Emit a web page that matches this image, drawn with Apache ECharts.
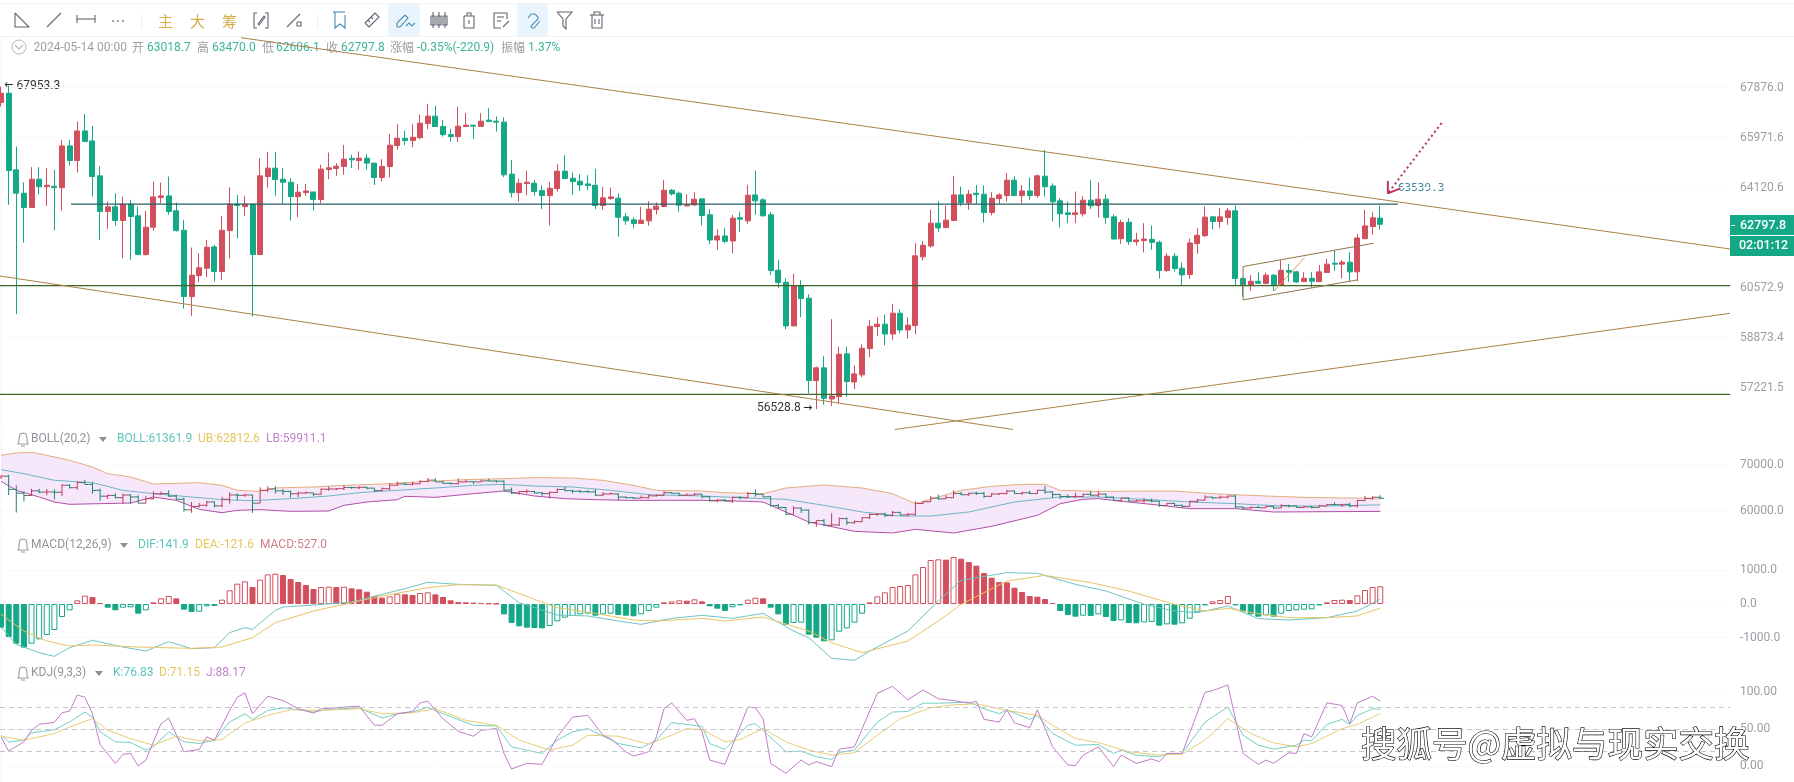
<!DOCTYPE html>
<html>
<head>
<meta charset="utf-8">
<style>html,body{margin:0;padding:0;background:#fff}#chart{width:1794px;height:782px}</style>
<script src="https://cdn.jsdelivr.net/npm/echarts@6/dist/echarts.min.js"></script>
</head>
<body>
<div id="chart"></div>
<script>
// candles, index 0..181
const opens = [
67304,67660,64775,63917,63401,64430,64158,64170,64121,65663,65120,66226,65848,64553,63257,63425,62933,63521,63101,61727,
62693,63761,63821,63281,62585,60267,60993,61249,61995,61133,62573,63521,63437,63521,61727,64528,64837,64430,64318,63797,
63941,63965,63689,64787,64825,64899,65194,65120,65207,65022,64491,64899,65676,65947,65861,65972,66505,66784,66391,66086,
66010,66391,66442,66391,66632,66594,66556,64615,63941,64269,64281,64013,63833,64085,64726,64466,64355,64257,64207,63473,
63725,63737,63065,62957,62825,62921,63329,63437,64025,63917,63461,63497,63713,63137,62239,62381,62205,63029,62921,63857,
63677,63137,61179,60760,59270,60643,60210,57454,57872,56855,56930,58334,57410,57641,58510,59247,59327,58998,59700,59134,
59281,61645,62029,62837,62681,62933,63857,63569,63917,63881,63221,63725,63833,64392,63833,64001,63833,64540,64183,63641,
63209,63149,63173,63665,63473,63701,63065,62286,62873,62181,62216,62263,62158,61168,61669,61249,61028,62111,62393,63065,
62897,63041,63281,60888,60666,60795,60713,61005,60666,61168,61121,60783,60899,60783,61098,61424,61389,61459,61121,62286,
62717,63018.7]
const closes = [
67660,64750,63917,63401,64430,64158,64207,64121,65663,65120,66226,65824,64528,63257,63425,62933,63521,63077,61727,62693,
63785,63821,63257,62573,60267,61005,61261,61983,61133,62585,63521,63473,63521,61727,64553,64837,64417,64318,63797,63953,
64001,63689,64800,64850,64911,65170,65145,65207,65022,64491,64899,65688,65947,65861,65985,66517,66784,66391,66086,66010,
66404,66442,66404,66594,66581,66556,64590,63941,64281,64318,63977,63833,64097,64726,64454,64343,64220,64195,63473,63749,
63785,63053,62921,62825,62945,63341,63449,64025,63893,63485,63497,63701,63113,62239,62381,62193,63017,62981,63845,63641,
63101,61168,60748,59270,60643,60199,57454,57872,56876,56952,58323,57421,57674,58521,59258,59327,58998,59700,59134,59293,
61680,62053,62837,62669,62945,63857,63569,63881,63869,63221,63737,63857,64392,63833,64001,63833,64553,64158,63605,63173,
63149,63209,63665,63461,63701,63041,62274,62861,62181,62239,62274,62158,61168,61669,61238,61016,62134,62405,63053,62897,
63065,63281,60888,60678,60795,60725,61005,60666,61179,61109,60771,60899,60795,61121,61389,61389,61459,61121,62310,62741,
63029,62797.8]
const lows = [
67152,63497,59667,62146,63401,63881,63461,62573,63293,64935,64677,65824,63797,62239,62633,62753,61599,61540,61727,61692,
62561,63557,63137,62537,59859,59610,60760,60935,60783,60841,61587,62298,63101,59587,61727,64121,63821,63521,62933,63053,
63821,63293,63557,64430,64553,64590,64837,64775,64775,64220,64343,64503,65515,65688,65614,65910,66289,66391,66010,65824,
65812,66366,65923,66391,66581,66200,64503,63761,63605,63845,63821,63341,62753,63977,64430,63857,64001,64037,63341,63317,
63677,62357,62777,62657,62825,62741,63149,63425,63833,63245,63437,63461,62753,62088,61890,62123,61773,62525,62813,63137,
63077,61005,60562,59157,59270,59565,57035,56528.8,56671,56628,56714,56930,57179,57564,58224,58930,58620,58796,59021,58840,
58987,61517,61972,62513,62657,62921,63461,63317,63521,62861,63113,63533,63617,63833,63557,63677,63761,63797,62897,62681,
62837,62837,63077,63341,63041,62813,62263,62100,62065,62042,61797,61890,60888,61121,61133,60643,60876,61750,62345,62621,
62657,62777,60643,60267,60471,60701,60701,60460,60643,60783,60736,60771,60585,60771,61098,61156,60888,60771,60795,62286,
62429,62606.1]
const highs = [
67914,67953.3,65639,64318,64874,64874,64837,64775,65886,65886,66580,66860,66416,64899,63617,63917,63797,63677,63437,63281,
64343,64306,64528,63581,62957,61972,61773,62239,62065,63101,64133,63857,63821,63521,65207,65441,65441,64837,64466,64257,
64257,63965,64960,65416,65022,65700,65330,65453,65342,65022,65170,66112,66480,66226,66480,66835,67254,67178,66645,66302,
67152,66899,66442,66899,67089,66772,66734,65145,64442,64751,64405,64207,64331,64985,65318,64677,64615,64578,64812,64146,
64121,63917,63197,63053,63425,63629,63581,64405,64073,63977,63881,63953,63713,63341,62621,62669,63137,63245,64220,64751,
63737,63245,61540,60899,61063,60830,60346,57916,58268,59497,58576,58576,57949,58653,59474,59565,59656,60018,59836,59565,
62123,62205,63317,63629,63461,64553,64158,64037,64220,64195,63953,63917,64652,64540,64220,64491,64603,65515,64281,63737,
63617,63977,63821,64405,64318,63881,63161,62957,63017,62501,62837,62753,62216,61773,61773,61447,62286,62657,63437,63065,
63377,63377,63473,60935,61005,61109,61098,61040,61529,61400,61156,61109,61109,61354,61575,61890,61540,61808,62453,63317,
63233,63470]

// main panel tick labels and drawn lines, as [candle index, price]
const priceTicks = [67876.0,65971.6,64120.6,60572.9,58873.4,57221.5]
const trendTop = [[31.5,69832],[226.9,61921]]
const trendLeft = [[-0.14,60977],[132.8,55877]]
const trendRising = [[117.3,55877],[226.9,59696]]
const levelMid = [[-0.14,60642],[226.9,60642]]
const levelLow = [[-0.14,57002],[226.9,57002]]
const levelTop = [[9.18,63521],[183.3,63521]]
const channel = [[180.1,62122],[163,61307],[163,60154],[178,60841]]
const channelCross = [[167.05,60460],[171.1,61622]]
const arrowShaft = [[189.05,66523],[182,63914]]
const arrowHead = [[182,64363],[182,63914],[183.65,64097]]

// BOLL
const bollTicks = [70000,60000]
const upperBand = [[0,72235],[2,72748],[4,72894],[6,72235],[9,71136],[12,69671],[14,68205],[17,67473],[20,65934],[23,66080],[26,66227],[29,65641],[31,64542],[34,64322],[36,65055],[41,65274],[45,65641],[50,65934],[56,66520],[61,66886],[66,67106],[70,67326],[75,67253],[79,66740],[83,65641],[86,64542],[92,64395],[95,64029],[100,63809],[103,65055],[108,65714],[113,65055],[117,63809],[120,61611],[126,64542],[130,65421],[134,65861],[137,65861],[139,64542],[144,64322],[154,64395],[159,63809],[166,63296],[171,63003],[176,62856],[181,62812.6]]
const lowerBand = [[0,66520],[2,64542],[5,63076],[7,61977],[9,61464],[13,61611],[17,61757],[20,63076],[23,62343],[26,60365],[29,59632],[31,60145],[34,60292],[38,59926],[43,59999],[45,61244],[48,61977],[52,62490],[53,63223],[57,63003],[62,63809],[66,64395],[70,63296],[74,62710],[78,62490],[82,62343],[92,62343],[98,62124],[100,61977],[103,59779],[106,57581],[112,55529],[117,55163],[120,55969],[125,55163],[130,56628],[136,59046],[139,61611],[142,62563],[144,62710],[148,61977],[153,61098],[156,60512],[162,60512],[167,59779],[174,59850],[181,59911.1]]
const midBand = [[0,69084],[3,68205],[7,66740],[12,66227],[16,64542],[20,63809],[25,63076],[29,62490],[33,62270],[38,62710],[43,63296],[47,64029],[52,64542],[57,65055],[62,65641],[66,65861],[70,65494],[75,65274],[80,64542],[85,63589],[92,63296],[98,62856],[103,62563],[108,61244],[113,59779],[118,58900],[122,58900],[127,59779],[133,61977],[139,63076],[144,63076],[150,62563],[156,61977],[162,61611],[168,61098],[174,61100],[181,61361.9]]

// MACD
const macdTicks = [1000,0,-1000]
const macdHist = [
-703,-980,-1178,-1297,-1178,-1049,-921,-772,-386,-188,109,248,208,30,-109,-188,-109,-99,-287,-188,
50,168,238,168,-168,-238,-228,-69,-59,129,406,604,673,505,723,881,901,861,743,653,
564,446,505,515,505,515,465,436,366,238,188,228,307,287,267,327,347,287,208,109,
59,50,40,30,20,10,-307,-564,-663,-703,-713,-723,-653,-515,-406,-356,-307,-287,-347,-307,
-287,-327,-347,-366,-307,-208,-109,50,79,109,99,139,79,-69,-139,-208,-99,-40,129,188,
168,-109,-307,-614,-564,-554,-911,-1000,-1109,-1079,-822,-723,-554,-287,50,228,347,505,535,564,
881,1099,1307,1327,1317,1396,1346,1247,1139,921,782,653,644,485,356,238,218,149,30,-208,
-327,-376,-347,-356,-307,-386,-505,-485,-564,-574,-545,-535,-644,-604,-614,-574,-436,-248,-40,79,
119,238,-40,-228,-307,-376,-337,-376,-287,-208,-188,-168,-158,-40,50,119,129,119,257,416,
505,527]
const difLine = [[0,-683],[2,-1198],[5,-1445],[7,-1554],[9,-1297],[12,-1079],[14,-1178],[16,-1277],[19,-1396],[22,-1119],[25,-1327],[28,-1297],[30,-851],[32,-703],[33,-752],[36,-188],[37,-89],[41,-30],[46,59],[50,287],[53,455],[56,644],[60,584],[65,554],[68,40],[73,-327],[77,-356],[81,-505],[84,-604],[88,-426],[92,-337],[96,-426],[100,-277],[104,-802],[106,-1000],[109,-1614],[112,-1673],[114,-1396],[119,-802],[123,89],[126,703],[132,931],[136,911],[141,584],[145,386],[150,-10],[154,-208],[157,-257],[161,-59],[165,-436],[169,-475],[174,-406],[178,-208],[181,141.9]]
const deaLine = [[0,-307],[3,-802],[6,-1099],[9,-1247],[12,-1218],[18,-1277],[25,-1317],[29,-1277],[33,-1000],[36,-554],[41,-208],[46,40],[50,238],[56,485],[60,574],[65,564],[70,139],[73,-109],[78,-277],[83,-475],[86,-505],[92,-426],[95,-505],[100,-386],[106,-802],[109,-1148],[113,-1445],[119,-1099],[123,-505],[126,-10],[132,683],[137,851],[143,634],[148,386],[154,-10],[158,-208],[161,-129],[165,-287],[169,-406],[174,-406],[178,-356],[181,-121.6]]

// KDJ
const kdjTicks = [100,50,0]
const kdjLevels = [80,50,20]
const jLine = [[0,39.4],[1,20],[3,32.7],[4,48.4],[5,56.5],[7,59.2],[8,72.3],[9,74.5],[10,96.5],[11,93.4],[12,70.9],[13,29],[15,3.4],[16,15.6],[17,16.9],[18,-0.2],[19,7.9],[21,57.4],[22,65.1],[24,19.2],[26,22.3],[27,39.4],[28,34.9],[30,75.4],[31,93.4],[32,99.2],[33,70.9],[35,94.7],[37,88.9],[39,77.7],[41,71.8],[42,77.7],[45,79.9],[47,81.3],[49,55.2],[50,55.2],[52,70.9],[54,74],[55,85.7],[56,88],[58,64.2],[60,47],[62,40.3],[63,48.4],[65,50.7],[66,16.9],[67,-4.3],[69,3.4],[71,2],[73,39.4],[75,66.4],[77,68.7],[79,41.6],[80,37.1],[82,19.2],[83,13.3],[85,19.2],[86,39.4],[87,77.7],[88,85.7],[90,61.9],[91,64.2],[92,46.2],[93,7.9],[95,2],[98,79.9],[99,79],[100,64.2],[101,3.4],[103,-10.1],[105,7.9],[106,1.2],[107,5.7],[109,-1.1],[110,22.7],[112,25.9],[115,98.8],[117,108.2],[119,89.8],[121,103.3],[123,91.2],[125,88.9],[127,85.3],[128,88],[129,63.2],[131,59.7],[132,76.3],[133,58.3],[135,52],[136,76.3],[138,25.9],[140,1.2],[141,0.3],[142,14.6],[144,25.9],[146,-1.1],[147,14.6],[149,3.4],[151,9.3],[152,5.7],[153,16.9],[155,16.9],[158,100.2],[159,102.4],[161,110.1],[163,16.9],[165,2],[166,7.9],[167,3.4],[169,17.8],[170,16.9],[171,43.9],[172,39.4],[174,85.7],[176,82.2],[177,57.4],[178,85.7],[180,94.7],[181,88.17]]
const kLine = [[0,41.7],[1,32.7],[3,34.9],[4,44.8],[7,49.3],[9,59.7],[11,73.2],[12,66.4],[13,46.2],[15,32.7],[17,31.8],[19,21.4],[20,25.9],[22,46.2],[24,32.7],[26,30.4],[28,34.9],[30,59.7],[32,70.9],[33,63.2],[35,75.4],[37,79],[39,76.3],[41,73.2],[43,76.8],[47,79],[50,65.1],[52,70.9],[54,73.2],[56,79.9],[58,70.9],[62,55.2],[65,54.3],[67,25.9],[71,16.9],[73,34.9],[75,46.2],[77,50.7],[79,40.3],[81,30.4],[84,24.5],[86,34.9],[88,58.8],[92,53.8],[93,30.4],[95,22.3],[98,55.2],[99,57.4],[100,48.4],[103,19.2],[105,20],[107,12.4],[109,8.8],[110,18.2],[112,21.4],[115,59.7],[117,73.2],[119,74.1],[121,85.3],[123,85.3],[127,86.7],[129,77.7],[131,70.9],[132,76.3],[135,63.2],[136,68.7],[138,43.9],[141,28.1],[144,29],[146,16.9],[147,21.4],[149,14.6],[152,12.4],[153,16.9],[155,16.9],[158,59.7],[161,79.9],[163,41.7],[165,28.1],[167,22.7],[170,28.1],[171,34.9],[172,34],[174,56.5],[176,63.2],[177,56.5],[178,68.7],[180,77.7],[181,76.83]]
const dLine = [[0,40.3],[3,34.9],[7,43.9],[9,52.9],[12,64.2],[14,48.4],[17,37.1],[20,28.1],[23,40.3],[26,34],[29,35.8],[32,58.3],[35,68.7],[38,76.3],[42,75.4],[47,77.7],[50,70.9],[54,72.3],[57,77.7],[61,61.9],[65,55.2],[68,34.9],[72,21.4],[75,28.1],[77,41.7],[81,40.3],[85,29.5],[88,41.7],[90,50.7],[92,49.3],[95,32.7],[97,35.8],[100,50.7],[103,32.7],[106,21.4],[109,14.6],[112,17.8],[115,41.7],[118,64.2],[122,79],[125,83.1],[128,84.4],[132,75.4],[136,68.7],[138,55.2],[141,37.1],[144,31.7],[148,19.2],[152,14.6],[155,16],[158,34.9],[161,64.2],[164,43.9],[167,31.3],[170,25.9],[172,30.4],[176,50.7],[178,56.5],[181,71.15]]

const RED = '#d24f5d', GREEN = '#14a887'
const NUM = 'Roboto, sans-serif', CJK = '"Noto Sans CJK SC", sans-serif', ARROW = '"DejaVu Sans", sans-serif'

const candles = opens.map((o, i) => [i, o, closes[i], lows[i], highs[i]])
const xDomain = { min: -0.138, max: 226.9 }

function xAxis(gridIndex) {
    return { type: 'value', gridIndex, ...xDomain, show: false, splitLine: { show: false } }
}
function yAxis(gridIndex, type, min, max, ticks, digits) {
    return {
        type, gridIndex, min, max, position: 'right', scale: true,
        axisLine: { show: true, lineStyle: { color: '#f1f2f4' } },
        axisTick: { show: false, customValues: ticks },
        splitLine: { show: true, lineStyle: { color: '#f8f9fa' } },
        axisLabel: {
            show: true, customValues: ticks, margin: 10, color: '#9a9fa5', fontSize: 12, fontFamily: NUM,
            formatter: v => Number(v).toFixed(digits)
        }
    }
}
function line(name, data, color, axis, extra) {
    return Object.assign({
        name, type: 'line', data, xAxisIndex: axis, yAxisIndex: axis, symbol: 'none', silent: true,
        lineStyle: { color, width: 1 }
    }, extra)
}

// ohlc ticks for the BOLL pane
function renderOhlc(params, api) {
    const x = api.value(0), o = api.value(1), c = api.value(2)
    const po = api.coord([x, o]), pc = api.coord([x, c])
    const pl = api.coord([x, api.value(3)]), ph = api.coord([x, api.value(4)])
    const style = { stroke: c >= o ? '#b8415c' : '#23806f', lineWidth: 1 }
    return {
        type: 'group', children: [
            { type: 'line', shape: { x1: ph[0], y1: ph[1], x2: pl[0], y2: pl[1] }, style },
            { type: 'line', shape: { x1: po[0] - 3.8, y1: po[1], x2: po[0], y2: po[1] }, style },
            { type: 'line', shape: { x1: pc[0], y1: pc[1], x2: pc[0] + 3.8, y2: pc[1] }, style }
        ]
    }
}
// band fill between upper and lower BOLL lines
function renderBand(params, api) {
    if (params.dataIndex !== 0) return
    const top = upperBand.map(p => api.coord(p))
    const bottom = lowerBand.map(p => api.coord(p)).reverse()
    return { type: 'polygon', shape: { points: top.concat(bottom) }, style: { fill: '#f6e7fb' } }
}

const macdBars = macdHist.map((v, i) => {
    const color = v >= 0 ? RED : GREEN
    const hollow = i > 0 && v > macdHist[i - 1]
    return { value: [i, v], itemStyle: { color: hollow ? '#fff' : color, borderColor: color, borderWidth: 1 } }
})

// page furniture drawn with graphic elements
const graphic = []
function text(x, y, str, fill, font, size, extra) {
    graphic.push({
        type: 'text', x, y, silent: true,
        style: Object.assign({ text: str, fill, fontFamily: font || NUM, fontSize: size || 12, verticalAlign: 'middle', align: 'left' }, extra)
    })
}
function icon(x, y, strokes, stroke) {
    strokes.forEach(points => graphic.push({
        type: 'polyline', x, y, silent: true, shape: { points },
        style: { fill: 'none', stroke: stroke || '#5d6670', lineWidth: 1.1 }
    }))
}
function rect(x, y, width, height, fill) {
    graphic.push({ type: 'rect', silent: true, shape: { x, y, width, height }, style: { fill } })
}

rect(388, 4, 32, 32, '#e9f4fc')
rect(517, 4, 31, 32, '#e9f4fc')
rect(0, 3, 1794, 1, '#f3f4f5')
rect(0, 36, 1794, 1, '#f1f2f3')
rect(141, 14, 1, 14, '#eceef0')
rect(317, 14, 1, 14, '#eceef0')

const BLUE = '#4a8db5'
icon(15, 13, [[[0,0],[0,14],[14,14],[0,0]]])
icon(47, 13, [[[0,14],[14,0]]])
icon(77, 15, [[[0,0],[0,8]],[[0,4],[18,4]],[[18,0],[18,8]]])
icon(112, 20, [[[0,1],[2,1]],[[5,1],[7,1]],[[10,1],[12,1]]], '#444')
text(158, 21, '主', '#d7aa4a', CJK, 15)
text(190, 21, '大', '#d7aa4a', CJK, 15)
text(222, 21, '筹', '#d7aa4a', CJK, 15)
icon(254, 13, [[[3,0],[0,0],[0,15],[3,15]],[[11,0],[14,0],[14,15],[11,15]],[[4,11],[10,3],[11,4],[5,12],[4,11]]])
icon(287, 13, [[[0,14],[13,1]],[[10,9],[14,9],[14,13],[10,13],[10,9]]])
icon(333, 12, [[[0,0],[12,0]],[[2,0],[2,16],[7,12],[12,16],[12,3]]], BLUE)
icon(365, 13, [[[0,10],[10,0],[14,4],[4,14],[0,10]],[[3,7],[5,9]],[[6,4],[8,6]]])
icon(397, 13, [[[0,14],[0,10],[8,2],[11,5],[3,14],[0,14]],[[9,13],[12,10],[15,13],[18,10]]], BLUE)
icon(430, 12, [[[1,4],[1,13],[5,13],[5,4],[1,4]],[[3,0],[3,16]],[[7,4],[7,13],[11,13],[11,4],[7,4]],[[9,0],[9,16]],[[13,4],[13,13],[17,13],[17,4],[13,4]],[[15,0],[15,16]]])
icon(464, 13, [[[0,3],[10,3],[10,15],[0,15],[0,3]],[[3,3],[3,0],[7,0],[7,3]],[[5,7],[5,11]]])
icon(494, 13, [[[13,6],[13,0],[0,0],[0,15],[7,15]],[[3,4],[10,4]],[[3,8],[7,8]],[[9,14],[15,8]]])
icon(526, 13, [[[2,5],[5,1],[9,1],[12,4],[12,6],[5,13],[6,15],[8,15],[14,8]]], BLUE)
icon(557, 12, [[[0,0],[15,0],[9,7],[9,17],[6,14],[6,7],[0,0]]])
icon(590, 12, [[[0,3],[14,3]],[[4,3],[4,0],[10,0],[10,3]],[[2,3],[2,16],[12,16],[12,3]],[[5,7],[5,12]],[[9,7],[9,12]]])

// header values
graphic.push({ type: 'circle', silent: true, shape: { cx: 19, cy: 47, r: 7 }, style: { fill: 'none', stroke: '#b4b8bd', lineWidth: 1 } })
icon(15, 45, [[[0,0],[4,4],[8,0]]], '#b4b8bd')
const GRAY = '#9aa0a6', TEAL = '#3fb39a'
const headerLabels = [[33.5, '2024-05-14 00:00'], [132, '开'], [197, '高'], [262, '低'], [326, '收'], [390, '涨幅'], [501, '振幅']]
const headerValues = [[147, '63018.7'], [212, '63470.0'], [276, '62606.1'], [341, '62797.8'], [417, '-0.35%(-220.9)'], [528, '1.37%']]
headerLabels.forEach(([x, s]) => text(x, 47.5, s, GRAY, /^\d/.test(s) ? NUM : CJK, 12))
headerValues.forEach(([x, s]) => text(x, 47.5, s, TEAL))

// indicator legends
function legend(y, title, triangleX, items) {
    icon(18, y - 6, [[[5,0],[2,1],[1,5],[1,8],[0,11],[10,11],[9,8],[9,5],[8,1],[5,0]],[[3,13],[7,13]]], '#9aa0a6')
    text(31, y, title, '#8f959b')
    graphic.push({
        type: 'polygon', silent: true,
        shape: { points: [[triangleX - 4, y - 2], [triangleX + 4, y - 2], [triangleX, y + 3]] }, style: { fill: '#8a9096' }
    })
    items.forEach(([x, s, c]) => text(x, y, s, c))
}
const LT = '#5fc4bb', LY = '#e6c55d', LP = '#c583cd'
legend(439, 'BOLL(20,2)', 103, [[117, 'BOLL:61361.9', LT], [198, 'UB:62812.6', LY], [266, 'LB:59911.1', LP]])
legend(545, 'MACD(12,26,9)', 124, [[138, 'DIF:141.9', LT], [195, 'DEA:-121.6', LY], [260, 'MACD:527.0', '#cf7f88']])
legend(673, 'KDJ(9,3,3)', 99, [[113, 'K:76.83', LT], [159, 'D:71.15', LY], [206, 'J:88.17', LP]])

// extremes and last price
text(4, 85.5, '←', '#222', ARROW, 11)
text(16.5, 85.5, '67953.3', '#333')
text(757, 408, '56528.8', '#333')
text(803, 408, '→', '#222', ARROW, 11)
text(1398, 188, '63539.3', '#3f86a0', '"DejaVu Sans Mono", monospace', 11)
rect(1730, 215, 64, 41, GREEN)
rect(1730, 235, 64, 1, '#fff')
rect(1731, 225, 4, 1, '#fff')
text(1740, 225.5, '62797.8', '#fff', NUM, 12.5, { fontWeight: 500 })
text(1739, 245.5, '02:01:12', '#fff', NUM, 12.5, { fontWeight: 500 })

// watermark
graphic.push({
    type: 'text', x: 1361, y: 744, silent: true, z: 100,
    style: {
        text: '搜狐号@虚拟与现实交换', fill: '#fff', stroke: '#000', lineWidth: 1.2,
        fontFamily: CJK, fontSize: 35.5, verticalAlign: 'middle', align: 'left',
        shadowColor: '#000', shadowOffsetX: 2, shadowOffsetY: 2, shadowBlur: 0
    }
})

const TREND = '#ab8148', LEVEL = '#3f6326'
const option = {
    animation: false,
    backgroundColor: '#fff',
    grid: [
        { left: 0, width: 1730, top: 37, height: 393 },
        { left: 0, width: 1730, top: 434, height: 100 },
        { left: 0, width: 1730, top: 536, height: 127 },
        { left: 0, width: 1730, top: 663, height: 120 }
    ],
    xAxis: [xAxis(0), xAxis(1), xAxis(2), xAxis(3)],
    yAxis: [
        yAxis(0, 'log', 55861, 69860, priceTicks, 1),
        yAxis(1, 'value', 54945, 76923, bollTicks, 1),
        yAxis(2, 'value', -1752, 2020, macdTicks, 1),
        yAxis(3, 'value', -22, 140, kdjTicks, 2)
    ],
    series: [
        {
            type: 'candlestick', data: candles, xAxisIndex: 0, yAxisIndex: 0, barWidth: 5.5, silent: true,
            itemStyle: { color: RED, color0: GREEN, borderColor: RED, borderColor0: GREEN, borderWidth: 1 }
        },
        line('levelMid', levelMid, LEVEL, 0, { lineStyle: { color: LEVEL, width: 1.2 } }),
        line('levelLow', levelLow, LEVEL, 0, { lineStyle: { color: LEVEL, width: 1.2 } }),
        line('levelTop', levelTop, '#2a5f60', 0, { lineStyle: { color: '#2a5f60', width: 1.3 } }),
        line('trendTop', trendTop, TREND, 0),
        line('trendLeft', trendLeft, TREND, 0),
        line('trendRising', trendRising, TREND, 0),
        line('channel', channel, '#8f7448', 0),
        line('channelCross', channelCross, '#d79a5c', 0),
        line('arrowShaft', arrowShaft, '#b5305a', 0, { lineStyle: { color: '#b5305a', width: 2, type: [2, 3] } }),
        line('arrowHead', arrowHead, '#c2335a', 0, { lineStyle: { color: '#c2335a', width: 2 } }),

        { type: 'custom', data: [[0, 60000]], xAxisIndex: 1, yAxisIndex: 1, renderItem: renderBand, silent: true, z: 1, encode: { x: 0, y: 1 } },
        line('mid', midBand, '#6fb6c6', 1, { z: 2 }),
        line('upper', upperBand, '#e5ad7c', 1, { z: 2 }),
        line('lower', lowerBand, '#b04fa6', 1, { z: 2 }),
        { type: 'custom', data: candles, xAxisIndex: 1, yAxisIndex: 1, renderItem: renderOhlc, silent: true, z: 3, encode: { x: 0, y: [1, 2, 3, 4] } },

        { type: 'bar', data: macdBars, xAxisIndex: 2, yAxisIndex: 2, barWidth: 6, silent: true },
        line('dif', difLine, '#6fc3c4', 2),
        line('dea', deaLine, '#e8c465', 2),

        line('k', kLine, '#72cfc5', 3),
        line('d', dLine, '#e8cd76', 3),
        line('j', jLine, '#c27cc8', 3, {
            markLine: {
                silent: true, symbol: 'none', label: { show: false },
                lineStyle: { color: '#c4c6c9', type: [5, 4], width: 1 },
                data: kdjLevels.map(v => ({ yAxis: v }))
            }
        })
    ],
    graphic
}

const myChart = echarts.init(document.getElementById('chart'))
myChart.setOption(option)
</script>
</body>
</html>
